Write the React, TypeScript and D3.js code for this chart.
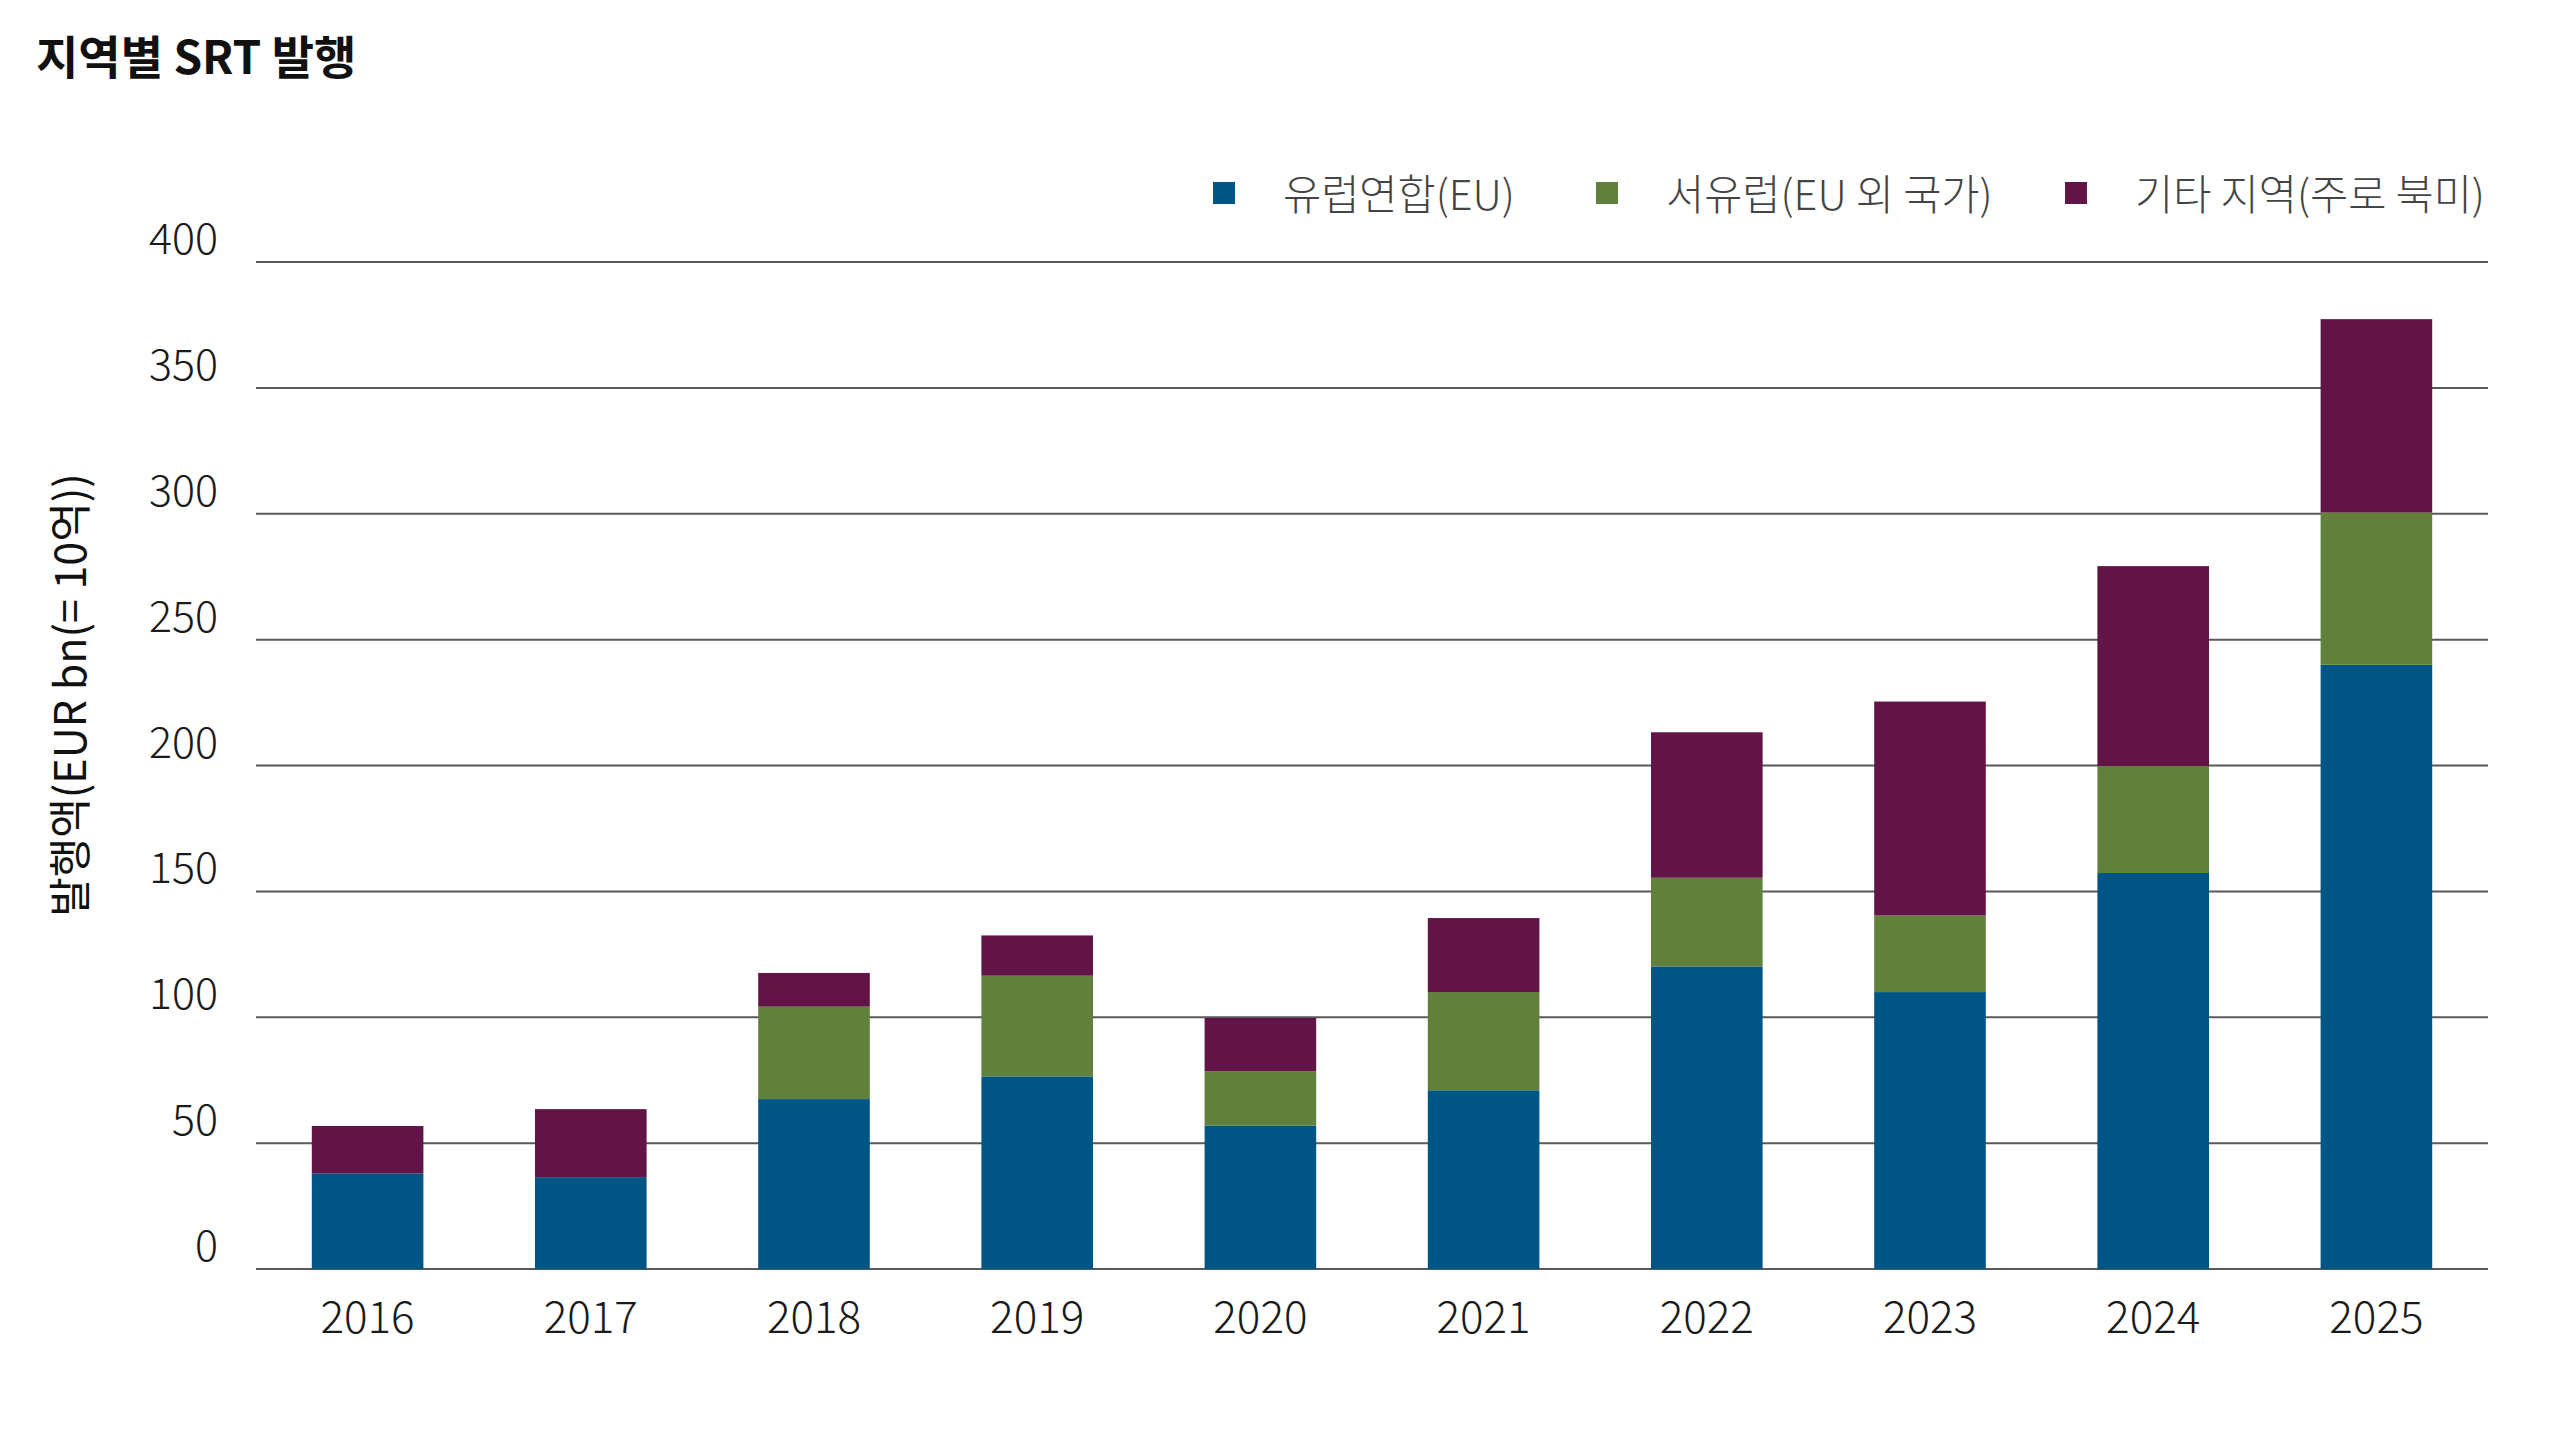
import { useEffect, useRef } from "react";
import * as d3 from "d3";

const years = ["2016", "2017", "2018", "2019", "2020", "2021", "2022", "2023", "2024", "2025"];
const euValues = [38, 36.5, 67.5, 76.5, 57, 71, 120.2, 110, 157.3, 240];
const westEuValues = [0, 0, 36.7, 40, 21.5, 39, 35.2, 30.4, 42.5, 60.5];
const otherValues = [18.8, 27, 13.4, 16, 21.2, 29.4, 57.8, 85, 79.4, 76.8];
const seriesNames = ["유럽연합(EU)", "서유럽(EU 외 국가)", "기타 지역(주로 북미)"];
const seriesColors = ["#005587", "#61803b", "#611445"];
const yTickValues = [0, 50, 100, 150, 200, 250, 300, 350, 400];

const title = "지역별 SRT 발행";
const yTitle = "발행액(EUR bn(= 10억))";

const W = 2560;
const H = 1440;
const FONT = "'Noto Sans CJK KR', 'Noto Sans', sans-serif";

export default function App() {
  const ref = useRef<SVGSVGElement | null>(null);

  useEffect(() => {
    const svg = d3.select(ref.current);
    svg.selectAll("*").remove();

    const plot = { left: 256, right: 2488, top: 262, bottom: 1269 };

    const x = d3
      .scaleBand<string>()
      .domain(years)
      .range([plot.left, plot.right])
      .paddingInner(0.5)
      .paddingOuter(0.25);
    const y = d3.scaleLinear().domain([0, 400]).range([plot.bottom, plot.top]);

    const rows = years.map((yr, i) => ({
      year: yr,
      eu: euValues[i],
      west: westEuValues[i],
      other: otherValues[i],
    }));
    const stack = d3.stack<any>().keys(["eu", "west", "other"]);
    const layers = stack(rows);

    // title
    svg
      .append("text")
      .attr("x", 36)
      .attr("y", 74)
      .attr("font-family", FONT)
      .attr("font-size", 46)
      .attr("font-weight", 700)
      .attr("fill", "#111")
      .text(title);

    // gridlines
    svg
      .append("g")
      .selectAll("line")
      .data(yTickValues)
      .enter()
      .append("line")
      .attr("x1", plot.left)
      .attr("x2", plot.right)
      .attr("y1", (d) => y(d))
      .attr("y2", (d) => y(d))
      .attr("stroke", "#58595b")
      .attr("stroke-width", 2);

    // y tick labels
    svg
      .append("g")
      .selectAll("text")
      .data(yTickValues)
      .enter()
      .append("text")
      .attr("x", 218)
      .attr("y", (d) => y(d) - 8)
      .attr("text-anchor", "end")
      .attr("font-family", FONT)
      .attr("font-size", 43)
      .attr("font-weight", 300)
      .attr("fill", "#1a1a1a")
      .text((d) => String(d));

    // bars
    layers.forEach((layer, k) => {
      svg
        .append("g")
        .attr("fill", seriesColors[k])
        .selectAll("rect")
        .data(layer.filter((d) => d[1] - d[0] > 0))
        .enter()
        .append("rect")
        .attr("x", (d) => x(d.data.year)!)
        .attr("width", x.bandwidth())
        .attr("y", (d) => y(d[1]))
        .attr("height", (d) => y(d[0]) - y(d[1]));
    });

    // x labels
    svg
      .append("g")
      .selectAll("text")
      .data(years)
      .enter()
      .append("text")
      .attr("x", (d) => x(d)! + x.bandwidth() / 2)
      .attr("y", 1333)
      .attr("text-anchor", "middle")
      .attr("font-family", FONT)
      .attr("font-size", 44)
      .attr("font-weight", 300)
      .attr("fill", "#1a1a1a")
      .text((d) => d);

    // y axis title
    svg
      .append("text")
      .attr("transform", "translate(86,695) rotate(-90)")
      .attr("text-anchor", "middle")
      .attr("font-family", FONT)
      .attr("font-size", 43)
      .attr("fill", "#111")
      .text(yTitle);

    // legend
    const legendX = [1213, 1596, 2065];
    const legend = svg.append("g");
    seriesNames.forEach((name, i) => {
      legend
        .append("rect")
        .attr("x", legendX[i])
        .attr("y", 182)
        .attr("width", 22)
        .attr("height", 22)
        .attr("fill", seriesColors[i]);
      legend
        .append("text")
        .attr("x", legendX[i] + 70)
        .attr("y", 210)
        .attr("font-family", FONT)
        .attr("font-size", 41.5)
        .attr("font-weight", 300)
        .attr("fill", "#444")
        .text(name);
    });
  }, []);

  return (
    <svg
      ref={ref}
      width={W}
      height={H}
      viewBox={`0 0 ${W} ${H}`}
      style={{ position: "absolute", left: 0, top: 0, background: "#fff" }}
    />
  );
}
